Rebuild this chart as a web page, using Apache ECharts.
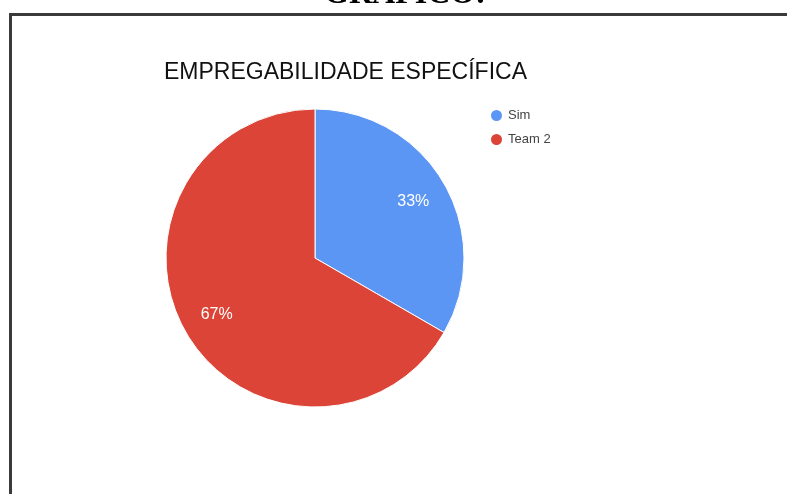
<!DOCTYPE html>
<html>
<head>
<meta charset="utf-8">
<script src="https://cdn.jsdelivr.net/npm/echarts@6/dist/echarts.min.js"></script>
<style>
  html, body { margin: 0; padding: 0; background: #fff; }
  #chart { width: 787px; height: 494px; }
</style>
</head>
<body>
<div id="chart"></div>
<script>
// Employability breakdown: two answer groups
const categories = ['Sim', 'Team 2'];
const values = [1, 2];
const colors = ['#5c96f5', '#db4437'];
const chartTitle = 'EMPREGABILIDADE ESPECÍFICA';
const pageHeading = 'GRÁFICO:';

const pieData = categories.map((name, i) => ({
  name: name,
  value: values[i],
  itemStyle: { color: colors[i] }
}));

const chart = echarts.init(document.getElementById('chart'), null, { renderer: 'canvas' });

chart.setOption({
  backgroundColor: '#ffffff',
  animation: false,
  title: {
    text: chartTitle,
    left: 164,
    top: 61,
    padding: 0,
    textStyle: {
      fontFamily: 'Liberation Sans, Arial, sans-serif',
      fontSize: 23,
      fontWeight: 'normal',
      color: '#111'
    }
  },
  legend: {
    orient: 'vertical',
    left: 489,
    top: 108,
    padding: 0,
    itemWidth: 13,
    itemHeight: 13,
    itemGap: 9,
    icon: 'circle',
    data: categories,
    textStyle: {
      fontFamily: 'Liberation Sans, Arial, sans-serif',
      fontSize: 13,
      color: '#444'
    }
  },
  graphic: [
    // frame lines around the chart area
    {
      type: 'rect',
      shape: { x: 9, y: 13, width: 778, height: 3 },
      style: { fill: '#3a3a3a' },
      silent: true
    },
    {
      type: 'rect',
      shape: { x: 9, y: 13, width: 3, height: 481 },
      style: { fill: '#3a3a3a' },
      silent: true
    },
    // page heading above the frame
    {
      type: 'text',
      x: 405,
      y: -5,
      style: {
        text: pageHeading,
        fontFamily: 'Liberation Serif, Times New Roman, serif',
        fontWeight: 'bold',
        fontSize: 32,
        fill: '#000',
        align: 'center',
        verticalAlign: 'middle'
      },
      silent: true
    }
  ],
  series: [
    {
      type: 'pie',
      center: [315, 258],
      radius: [0, 149],
      startAngle: 90,
      clockwise: true,
      label: { show: false },
      labelLine: { show: false },
      itemStyle: { borderColor: '#fff', borderWidth: 1 },
      emphasis: { disabled: true },
      data: pieData
    },
    {
      // percentage labels placed at about three quarters of the radius
      type: 'pie',
      center: [315, 258],
      radius: [72, 149],
      startAngle: 90,
      clockwise: true,
      silent: true,
      itemStyle: { color: 'rgba(0,0,0,0)', borderWidth: 0 },
      emphasis: { disabled: true },
      label: {
        show: true,
        position: 'inside',
        color: '#ffffff',
        fontFamily: 'Liberation Sans, Arial, sans-serif',
        fontSize: 16,
        formatter: p => Math.round(p.percent) + '%'
      },
      labelLine: { show: false },
      data: categories.map((name, i) => ({ name: name, value: values[i] }))
    }
  ]
});
</script>
</body>
</html>
